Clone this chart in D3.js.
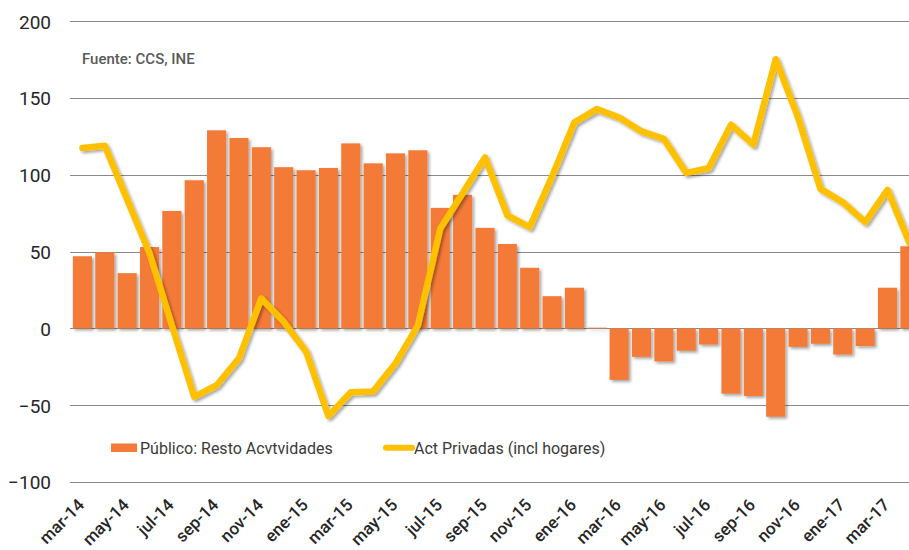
<!DOCTYPE html>
<html>
<head>
<meta charset="utf-8">
<script src="https://cdn.jsdelivr.net/npm/d3@7"></script>
<style>
  html, body { margin: 0; padding: 0; background: #fff; }
  svg { display: block; }
  text { font-family: Roboto, "Noto Sans", sans-serif; }
</style>
</head>
<body>
<svg id="chart" width="909" height="550"></svg>
<script>
const categories = [
  "mar-14","abr-14","may-14","jun-14","jul-14","ago-14","sep-14","oct-14","nov-14","dic-14",
  "ene-15","feb-15","mar-15","abr-15","may-15","jun-15","jul-15","ago-15","sep-15","oct-15",
  "nov-15","dic-15","ene-16","feb-16","mar-16","abr-16","may-16","jun-16","jul-16","ago-16",
  "sep-16","oct-16","nov-16","dic-16","ene-17","feb-17","mar-17","abr-17"
];
const publicoValues = [
  47, 49.5, 36, 53, 76.5, 96.5, 129, 124, 118, 105,
  103, 104.5, 120.5, 107.5, 114, 116, 78.5, 87, 65.5, 55,
  39.5, 21, 26.5, 0.5, -33.5, -18.5, -21.5, -14.5, -10.5, -42.5,
  -44, -57.5, -12, -10, -17, -11.5, 26.5, 53.5
];
const privadasValues = [
  117.5, 119, 84, 49, 2, -44.5, -37, -19.5, 19.5, 4.3,
  -15, -57, -41.5, -41, -22.7, 2, 65, 88, 111.4, 73.6,
  66, 99, 134.2, 142.8, 137.4, 128.3, 123.4, 101.3, 104.3, 132.7,
  119.7, 175.3, 137.4, 90.9, 82.2, 69.2, 90.2, 55.2
];
const yTicks = [-100, -50, 0, 50, 100, 150, 200];
const xTickLabels = categories.filter((d, i) => i % 2 === 0);
const seriesNames = ["Público: Resto Acvtvidades", "Act Privadas (incl hogares)"];
const sourceText = "Fuente: CCS, INE";

const svg = d3.select("#chart");
const defs = svg.append("defs");
const f = defs.append("filter").attr("id", "shadow")
  .attr("x", "-20%").attr("y", "-20%").attr("width", "140%").attr("height", "140%");
f.append("feDropShadow").attr("dx", 2).attr("dy", 2).attr("stdDeviation", 1.4)
  .attr("flood-color", "#000").attr("flood-opacity", 0.35);

const x = d3.scaleBand().domain(categories).range([71.3, 921]).paddingInner(0.145).paddingOuter(0.07);
const y = d3.scaleLinear().domain([-100, 200]).range([482, 21.3]);

// gridlines
const grid = svg.append("g");
grid.selectAll("line").data(yTicks).join("line")
  .attr("x1", 70).attr("x2", 909)
  .attr("y1", d => Math.round(y(d)) + 0.5).attr("y2", d => Math.round(y(d)) + 0.5)
  .attr("stroke", "#8a8a8a").attr("stroke-width", 1);

// y axis labels
const yAxis = d3.axisLeft(y).tickValues(yTicks).tickSize(0).tickPadding(0);
const yg = svg.append("g").attr("transform", "translate(51,0)").call(yAxis);
yg.select(".domain").remove();
yg.selectAll("text").attr("font-size", 19).attr("fill", "#262626").attr("dy", "0.36em");

// bars
svg.append("g").attr("filter", "url(#shadow)")
  .selectAll("rect").data(categories).join("rect")
  .attr("x", d => x(d))
  .attr("width", x.bandwidth())
  .attr("y", (d, i) => y(Math.max(0, publicoValues[i])))
  .attr("height", (d, i) => Math.abs(y(publicoValues[i]) - y(0)))
  .attr("fill", "#F47A37");

// line
const line = d3.line()
  .x((d, i) => x(categories[i]) + x.bandwidth() / 2)
  .y(d => y(d));
svg.append("path").datum(privadasValues)
  .attr("d", line)
  .attr("fill", "none")
  .attr("stroke", "#FFC000")
  .attr("stroke-width", 6.5)
  .attr("stroke-linejoin", "round")
  .attr("stroke-linecap", "round")
  .attr("filter", "url(#shadow)");

// x axis labels
const xAxis = d3.axisBottom(x).tickValues(xTickLabels).tickSize(0).tickPadding(0);
const xg = svg.append("g").attr("transform", "translate(0,494)").call(xAxis);
xg.select(".domain").remove();
xg.selectAll("text")
  .attr("font-size", 17)
  .attr("font-weight", 500)
  .attr("fill", "#262626")
  .attr("text-anchor", "end")
  .attr("dy", 0)
  .attr("y", 0)
  .attr("transform", "translate(3,12) rotate(-45)");

// source
svg.append("text").attr("x", 82).attr("y", 64)
  .attr("font-size", 15).attr("font-weight", 500).attr("fill", "#595959")
  .text(sourceText);

// legend
svg.append("rect").attr("x", 111).attr("y", 443.5).attr("width", 26).attr("height", 8.5)
  .attr("fill", "#F47A37");
svg.append("text").attr("x", 140).attr("y", 453.5)
  .attr("font-size", 16).attr("fill", "#3a3a3a").text(seriesNames[0]);
svg.append("line").attr("x1", 386).attr("x2", 412).attr("y1", 447.7).attr("y2", 447.7)
  .attr("stroke", "#FFC000").attr("stroke-width", 6).attr("stroke-linecap", "round");
svg.append("text").attr("x", 414).attr("y", 453.5)
  .attr("font-size", 16).attr("fill", "#3a3a3a").text(seriesNames[1]);
</script>
</body>
</html>
